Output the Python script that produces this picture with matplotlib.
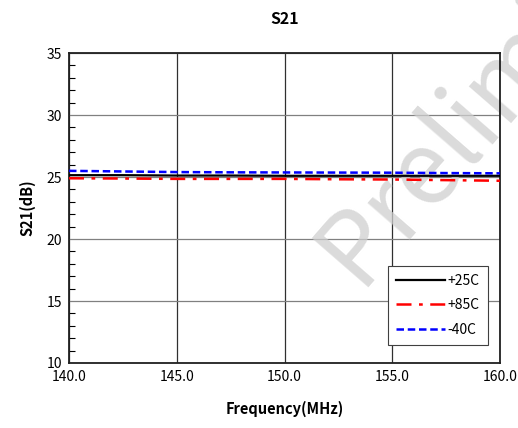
import matplotlib
matplotlib.use('Agg')
import matplotlib.pyplot as plt
from matplotlib.ticker import MultipleLocator

plt.rcParams['font.family'] = ['Noto Sans CJK KR', 'DejaVu Sans']

freq = [140.0, 142.5, 145.0, 147.5, 150.0, 152.5, 155.0, 157.5, 160.0]
s21_25c = [25.15, 25.15, 25.12, 25.12, 25.1, 25.1, 25.1, 25.1, 25.1]
s21_85c = [24.9, 24.88, 24.85, 24.85, 24.85, 24.82, 24.8, 24.75, 24.7]
s21_m40c = [25.5, 25.45, 25.4, 25.38, 25.37, 25.36, 25.35, 25.32, 25.3]

fig = plt.figure(figsize=(5.18, 4.28), dpi=100)
ax = fig.add_axes([0.1332, 0.1519, 0.8321, 0.7241])

ax.plot(freq, s21_25c, color='black', lw=1.6, label='+25C', zorder=3)
ax.plot(freq, s21_85c, color='red', lw=1.8, ls=(0, (6, 3, 1.5, 3)), label='+85C', zorder=3)
ax.plot(freq, s21_m40c, color='blue', lw=1.8, ls=(0, (3, 1.5)), label='-40C', zorder=3)

ax.set_xlim(140, 160)
ax.set_ylim(10, 35)
ax.set_xticks([140, 145, 150, 155, 160])
ax.set_xticklabels(['140.0', '145.0', '150.0', '155.0', '160.0'])
ax.set_yticks([10, 15, 20, 25, 30, 35])
ax.yaxis.set_minor_locator(MultipleLocator(1))
ax.tick_params(axis='both', which='major', length=0, labelsize=10, pad=5)
ax.tick_params(axis='y', which='minor', direction='in', length=4, width=0.8)

ax.xaxis.grid(True, color='#303030', lw=0.9)
ax.yaxis.grid(True, color='#808080', lw=0.9)
ax.set_axisbelow(True)
for sp in ax.spines.values():
    sp.set_color('#202020')
    sp.set_linewidth(1.3)

ax.set_title('S21', fontsize=11.5, fontweight='bold', pad=21)
ax.set_xlabel('Frequency(MHz)', fontsize=10.5, fontweight='bold', labelpad=12)
ax.set_ylabel('S21(dB)', fontsize=10.5, fontweight='bold', labelpad=8)

leg = ax.legend(loc='lower right', bbox_to_anchor=(0.972, 0.058), fontsize=10,
                fancybox=False, framealpha=1, edgecolor='#404040', borderaxespad=0,
                handlelength=3.5, borderpad=0.6, labelspacing=0.75, handletextpad=0.2)
leg.get_frame().set_linewidth(0.8)
leg.set_zorder(5)

# watermark, under the curves
ax.text(0.693, 0.329, 'Preliminary', transform=fig.transFigure, fontsize=74,
        fontweight='light', color='#cfcfcf', alpha=0.75, rotation=49,
        rotation_mode='anchor', ha='left', va='baseline', zorder=2, clip_on=False)

fig.savefig('out.png', dpi=100)
